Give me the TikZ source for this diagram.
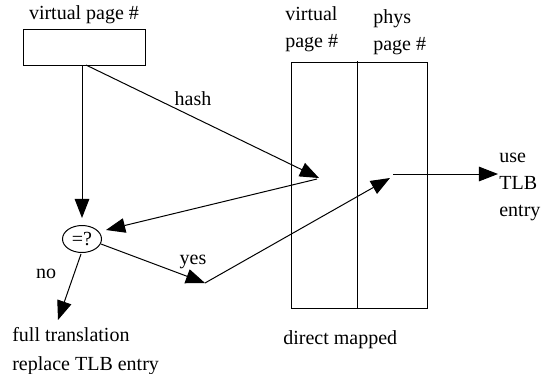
\documentclass[tikz,border=0pt]{standalone}
\usepackage{fontspec}
\setmainfont{Liberation Serif}
\usetikzlibrary{arrows.meta,shapes.geometric}
\begin{document}
\begin{tikzpicture}[x=0.6pt,y=-0.6pt,
  every node/.style={font=\fontsize{12}{16}\selectfont, inner sep=0pt},
  lbl/.style={anchor=west, align=left},
  ln/.style={line width=0.6pt},
  arr/.style={ln, -{Triangle[length=11.5pt,width=8.8pt]}}]
\useasboundingbox (0,0) rectangle (541,373);
% top box
\node[draw, ln, minimum width=73.2pt, minimum height=21.6pt] (topbox) at (84,47) {};
\node (toplbl) at (84,15) {virtual page \#};
% compare
\node[draw, ln, ellipse, minimum width=23.4pt, minimum height=16.2pt] (eq) at (82,239) {=?};
% table
\node[draw, ln, minimum width=81.6pt, minimum height=147.6pt] (tbl) at (359,185) {};
\coordinate (divtop) at (357,61);
\coordinate (divbot) at (357,308);
\draw[ln] (divtop) -- (divbot);
\node[lbl] (vplbl) at (285,29) {virtual\\[0.5pt]page \#};
\node[lbl] (pplbl) at (373,32) {phys\\[0.5pt]page \#};
\node[lbl] (dmlbl) at (283,340) {direct mapped};
% labels
\node (hash) at (193,99) {hash};
\node (yes) at (193,262) {yes};
\node (no) at (46,274) {no};
\node[lbl] (use) at (499,187) {use\\TLB\\entry};
\node[lbl] (full) at (12,351) {full translation\\[1.5pt]replace TLB entry};
% coordinates
\coordinate (vstart) at (82,65);
\coordinate (vtip) at (82,218);
\coordinate (hstart) at (86,65);
\coordinate (htip) at (319,178);
\coordinate (bstart) at (317,179);
\coordinate (btip) at (106,230);
\coordinate (ystart) at (101,244);
\coordinate (ytip) at (205,283);
\coordinate (ptip) at (390,178);
\coordinate (ustart) at (393,174);
\coordinate (utip) at (498,174);
\coordinate (nstart) at (81,254);
\coordinate (ntip) at (58,320);
% connectors
\draw[arr] (vstart) -- (vtip);
\draw[arr] (hstart) -- (htip);
\draw[arr] (bstart) -- (btip);
\draw[arr] (ystart) -- (ytip);
\draw[arr] (ytip) -- (ptip);
\draw[arr] (ustart) -- (utip);
\draw[arr] (nstart) -- (ntip);
\end{tikzpicture}
\end{document}
